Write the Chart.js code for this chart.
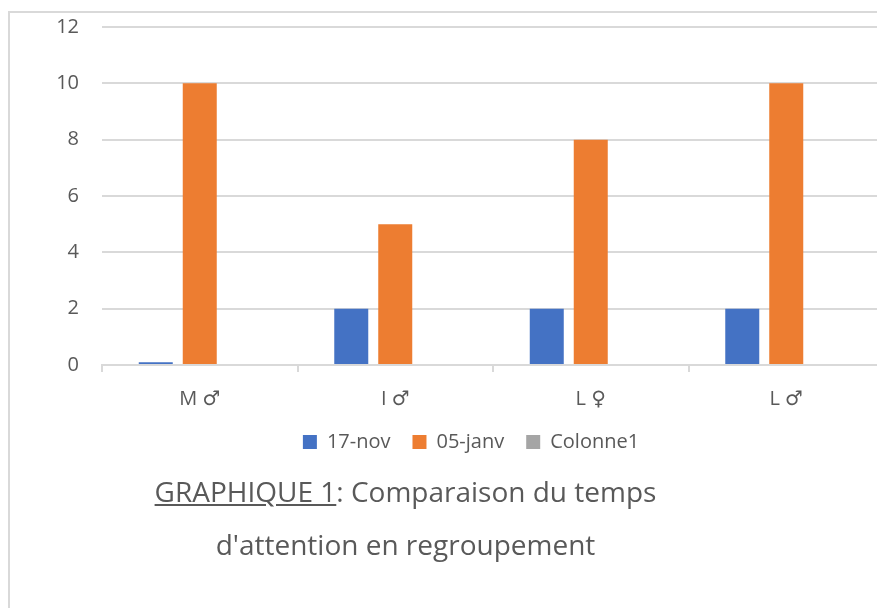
<!DOCTYPE html>
<html>
<head>
<meta charset="utf-8">
<script src="https://cdn.jsdelivr.net/npm/chart.js@4"></script>
<style>
  html, body { margin: 0; padding: 0; background: #fff; overflow: hidden; width: 877px; height: 608px; }
  #frame { position: absolute; left: 8px; top: 11px; width: 1000px; height: 700px; border-left: 2px solid #d9d9d9; border-top: 2px solid #d9d9d9; }
  #myChart { position: absolute; left: 0; top: 0; }
  #titre { position: absolute; left: 0; top: 465px; width: 811px; text-align: center; font-family: "Open Sans", "DejaVu Sans", sans-serif; font-size: 28px; line-height: 53px; color: #595959; }
</style>
</head>
<body>
<div id="frame"></div>
<canvas id="myChart" width="950" height="608"></canvas>
<div id="titre"><u>GRAPHIQUE 1</u>: Comparaison du temps<br>d'attention en regroupement</div>
<script>
var categories = ['M ♂', 'I ♂', 'L ♀', 'L ♂'];
var valeurs_17_nov = [0.1, 2, 2, 2];
var valeurs_05_janv = [10, 5, 8, 10];
var valeurs_colonne1 = [0, 0, 0, 0];
var graduations = [0, 2, 4, 6, 8, 10, 12];

var police = '"Open Sans", "DejaVu Sans", sans-serif';
var gris = '#595959';

var ctx = document.getElementById('myChart').getContext('2d');
var myChart = new Chart(ctx, {
    type: 'bar',
    data: {
        labels: categories,
        datasets: [{
            label: '17-nov',
            data: valeurs_17_nov,
            backgroundColor: '#4472C4'
        }, {
            label: '05-janv',
            data: valeurs_05_janv,
            backgroundColor: '#ED7D31'
        }, {
            label: 'Colonne1',
            data: valeurs_colonne1,
            backgroundColor: '#A5A5A5'
        }]
    },
    options: {
        responsive: false,
        animation: false,
        categoryPercentage: 0.675,
        barPercentage: 0.773,
        layout: {
            padding: { left: 58, right: 66, top: 27, bottom: 146 }
        },
        plugins: {
            tooltip: { enabled: false },
            legend: {
                position: 'bottom',
                labels: {
                    boxWidth: 14,
                    boxHeight: 14,
                    padding: 22,
                    color: gris,
                    font: { family: police, size: 20 }
                }
            }
        },
        scales: {
            x: {
                afterFit: function (axis) { axis.height = 45; },
                grid: {
                    drawOnChartArea: false,
                    drawTicks: true,
                    tickLength: 7,
                    color: '#d9d9d9',
                    lineWidth: 2
                },
                border: { display: true, color: '#d9d9d9', width: 2 },
                ticks: {
                    color: gris,
                    padding: 15,
                    font: { family: police, size: 20 }
                }
            },
            y: {
                min: 0,
                max: 12,
                afterBuildTicks: function (axis) {
                    axis.ticks = graduations.map(function (v) { return { value: v }; });
                },
                afterFit: function (axis) {
                    axis.width = 44;
                    axis.paddingTop = 0;
                    axis.paddingBottom = 0;
                },
                grid: {
                    drawTicks: false,
                    color: '#d9d9d9',
                    lineWidth: 2
                },
                border: { display: false },
                ticks: {
                    color: gris,
                    padding: 23,
                    font: { family: police, size: 20 }
                }
            }
        }
    }
});
</script>
</body>
</html>
